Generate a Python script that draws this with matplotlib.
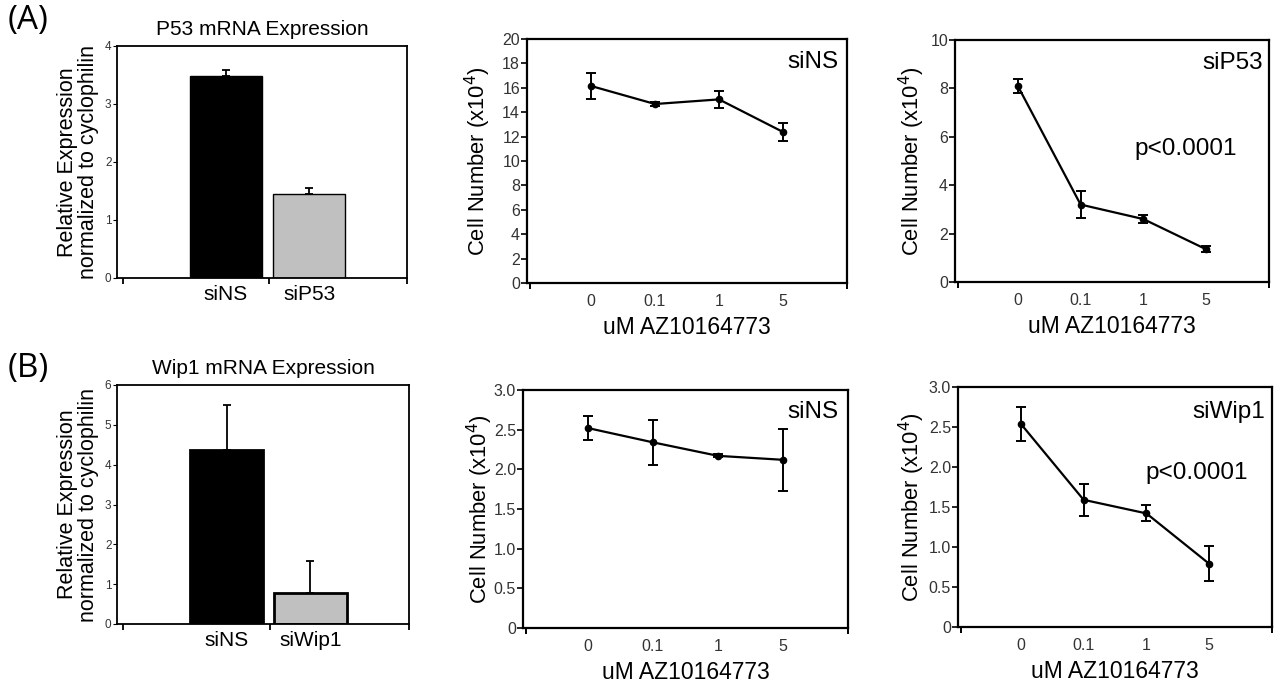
import matplotlib
matplotlib.use("Agg")
import matplotlib.pyplot as plt
import numpy as np

plt.rcParams['font.family'] = ['Liberation Sans', 'DejaVu Sans']

# bar data
bar_labels_a = ["siNS", "siP53"]
bar_vals_a = [3.48, 1.45]
bar_err_a = [0.10, 0.10]
bar_labels_b = ["siNS", "siWip1"]
bar_vals_b = [4.37, 0.77]
bar_err_b = [1.12, 0.80]

# cell count data
doses = ["0", "0.1", "1", "5"]
a_sins = [16.15, 14.67, 15.05, 12.38]
a_sins_err = [1.1, 0.2, 0.7, 0.7]
a_sip53 = [8.1, 3.2, 2.6, 1.35]
a_sip53_err = [0.3, 0.55, 0.15, 0.12]
b_sins = [2.52, 2.34, 2.17, 2.12]
b_sins_err = [0.15, 0.28, 0.02, 0.39]
b_siwip1 = [2.54, 1.59, 1.42, 0.79]
b_siwip1_err = [0.21, 0.2, 0.1, 0.22]

W, H = 1282, 684
fig = plt.figure(figsize=(W / 100, H / 100), dpi=100)


def box(l, r, t, b):
    return [l / W, 1 - b / H, (r - l) / W, (b - t) / H]


def style_axes(ax, lw=1.6):
    for s in ax.spines.values():
        s.set_linewidth(lw)
        s.set_color('black')


def bar_panel(pos, labels, vals, errs, ymax, title, edge_lw):
    ax = fig.add_axes(pos)
    style_axes(ax, 1.3)
    x = [1.5, 2.65]
    ax.bar(x, vals, width=1.0, color=['black', '#c0c0c0'], edgecolor='black',
           linewidth=edge_lw, zorder=2)
    ax.errorbar(x, vals, yerr=[[0, 0], errs], fmt='none', ecolor='black',
                elinewidth=1.3, capsize=3, capthick=1.3, zorder=3)
    ax.set_xlim(0, 4)
    ax.set_ylim(0, ymax)
    ax.set_yticks(range(0, ymax + 1))
    ax.tick_params(axis='y', labelsize=8.5, length=3, width=0.8, pad=1,
                   labelcolor='#333333')
    ax.set_xticks(x)
    ax.set_xticklabels(labels, fontsize=15)
    ax.tick_params(axis='x', length=0, pad=5)
    ax.set_xticks([0.08, 2.1, 4.0], minor=True)
    ax.tick_params(axis='x', which='minor', length=4, width=1.3)
    ax.set_title(title, fontsize=15, pad=8)
    ax.set_ylabel("Relative Expression\nnormalized to cyclophilin", fontsize=15.5,
                  linespacing=1.0)
    ax.yaxis.set_label_coords(-0.062, 0.5)
    return ax


def line_panel(pos, vals, errs, ymax, step, ticklabels, name, ptext, px, py, lx):
    ax = fig.add_axes(pos)
    style_axes(ax)
    xs = np.arange(1, len(doses) + 1)
    ax.errorbar(xs, vals, yerr=errs, fmt='-o', color='black', lw=1.6,
                markersize=4.5, capsize=3.5, capthick=1.4, elinewidth=1.4)
    ax.set_xlim(0, 5)
    ax.set_ylim(0, ymax)
    ticks = np.arange(0, ymax + step / 2, step)
    ax.set_yticks(ticks)
    ax.set_yticklabels(ticklabels)
    ax.tick_params(axis='y', labelsize=11.5, length=4, width=1.2, pad=1,
                   labelcolor='#333333')
    ax.set_xticks(xs)
    ax.set_xticklabels(doses)
    ax.tick_params(axis='x', labelsize=11.5, length=0, pad=8, labelcolor='#333333')
    ax.set_xticks([0.05, 5], minor=True)
    ax.tick_params(axis='x', which='minor', length=4, width=1.4)
    ax.set_xlabel("uM AZ10164773", fontsize=16.5, labelpad=5)
    ax.set_ylabel("Cell Number (x10$^{4}$)", fontsize=15.8)
    ax.yaxis.set_label_coords(lx, 0.5)
    ax.text(name[1], name[2], name[0], transform=ax.transAxes, ha='right',
            va='center', fontsize=17.5)
    if ptext:
        ax.text(px, py, ptext, ha='left', va='center', fontsize=17.5)
    return ax


bar_panel(box(117, 407, 46, 278), bar_labels_a, bar_vals_a, bar_err_a, 4,
          "P53 mRNA Expression", 1.0)
bar_panel(box(117, 409, 385, 624), bar_labels_b, bar_vals_b, bar_err_b, 6,
          "Wip1 mRNA Expression", 2.0)

line_panel(box(527, 847, 39, 283), a_sins, a_sins_err, 20, 2,
           [str(v) for v in range(0, 21, 2)], ("siNS", 0.972, 0.906),
           None, 0, 0, -0.106)
line_panel(box(955, 1269, 40, 282), a_sip53, a_sip53_err, 10, 2,
           [str(v) for v in range(0, 11, 2)], ("siP53", 0.981, 0.905),
           "p<0.0001", 2.85, 5.5, -0.089)
tl = ["0", "0.5", "1.0", "1.5", "2.0", "2.5", "3.0"]
line_panel(box(523, 848, 390, 628), b_sins, b_sins_err, 3.0, 0.5, tl,
           ("siNS", 0.972, 0.908), None, 0, 0, -0.086)
line_panel(box(958, 1272, 387, 627), b_siwip1, b_siwip1_err, 3.0, 0.5, tl,
           ("siWip1", 0.978, 0.895), "p<0.0001", 2.98, 1.92, -0.099)

fig.text(8 / W, 1 - 4 / H, "(A)", family=['Open Sans', 'DejaVu Sans'],
         fontsize=24, ha='left', va='top')
fig.text(8 / W, 1 - 352 / H, "(B)", family=['Open Sans', 'DejaVu Sans'],
         fontsize=24, ha='left', va='top')

fig.savefig("out.png", dpi=100, facecolor='white')
